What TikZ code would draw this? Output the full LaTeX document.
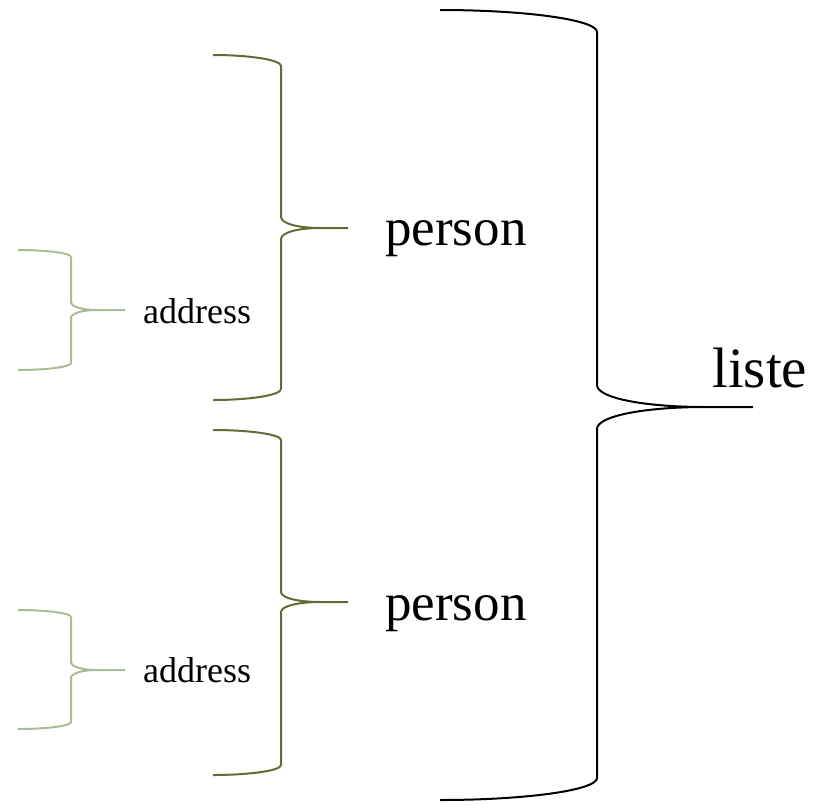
\documentclass[tikz,border=0pt]{standalone}
\usepackage{fontspec}
\setmainfont{Liberation Serif}
\definecolor{personc}{RGB}{98,108,52}
\definecolor{addrc}{RGB}{170,188,148}
% #1 x0, #2 xv, #3 xt, #4 xe, #5 yt, #6 ym, #7 yb, #8 de, #9 dm
\newcommand\bracedraw[9]{%
  \draw (#1,#5) .. controls ({#1+0.55*(#2-#1)},#5) and (#2,{#5+0.45*#8}) .. (#2,{#5+#8})
    -- (#2,{#6-#9}) .. controls (#2,{#6-0.4*#9}) and ({#2+0.45*(#3-#2)},#6) .. (#3,#6) -- (#4,#6)
    (#3,#6) .. controls ({#2+0.45*(#3-#2)},#6) and (#2,{#6+0.4*#9}) .. (#2,{#6+#9})
    -- (#2,{#7-#8}) .. controls (#2,{#7-0.45*#8}) and ({#1+0.55*(#2-#1)},#7) .. (#1,#7);}
\tikzset{
  bigbrace/.style={draw=black,line width=2pt,line join=round},
  personbrace/.style={draw=personc,line width=2pt,line join=round},
  addrbrace/.style={draw=addrc,line width=2pt,line join=round},
  lbl/.style={inner sep=0pt,anchor=base west,text=black},
}
\begin{document}
\begin{tikzpicture}[x=1pt,y=-1pt]
\useasboundingbox (0,0) rectangle (817,804);
\begin{scope}[bigbrace]
  \bracedraw{440}{597}{705}{753}{10}{407}{800}{22}{22}
\end{scope}
\begin{scope}[personbrace]
  \bracedraw{213}{281}{320}{348}{55}{228}{400}{11}{11}
  \bracedraw{213}{281}{320}{348}{430}{602}{775}{10}{10}
\end{scope}
\begin{scope}[addrbrace]
  \bracedraw{18}{71}{97}{125}{250}{310}{370}{7}{8}
  \bracedraw{18}{71}{97}{125}{610}{670}{729}{7}{8}
\end{scope}
\node[lbl,font=\fontsize{53}{60}\selectfont] (p1) at (385,245) {person};
\node[lbl,font=\fontsize{53}{60}\selectfont] (p2) at (385,620) {person};
\node[lbl,font=\fontsize{36}{42}\selectfont] (a1) at (143,323) {address};
\node[lbl,font=\fontsize{36}{42}\selectfont] (a2) at (143,682) {address};
\node[lbl,font=\fontsize{57}{64}\selectfont] (l) at (712,387) {liste};
\end{tikzpicture}
\end{document}
